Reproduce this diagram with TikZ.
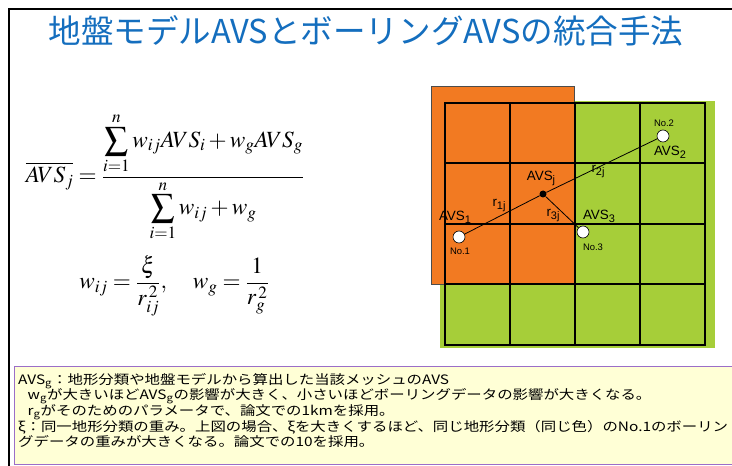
\documentclass[tikz,border=0pt]{standalone}
\usepackage{mathptmx}
\usepackage{fontspec}
\setmainfont{Liberation Serif}
\newfontfamily\cjk{Noto Sans CJK JP}
\newfontfamily\arial{Liberation Sans}
\definecolor{titleblue}{RGB}{20,110,190}
\definecolor{gorange}{RGB}{242,122,34}
\definecolor{ggreen}{RGB}{166,206,57}
\definecolor{boxfill}{RGB}{255,255,214}
\definecolor{boxline}{RGB}{155,110,200}
\newcommand{\lsub}[1]{\raisebox{-3bp}{\fontsize{11}{11}\selectfont #1}}
\tikzset{
  titletext/.style={text=titleblue, font=\cjk\fontsize{33}{33}\selectfont, inner sep=0},
  gridline/.style={line width=2bp, black},
  pt/.style={circle, draw=black, line width=0.6bp, fill=white, minimum size=12bp, inner sep=0},
  jdot/.style={circle, fill=black, minimum size=7bp, inner sep=0},
  glabel/.style={font=\arial\fontsize{13.5}{14}\selectfont, inner sep=0},
  nolabel/.style={font=\arial\fontsize{9.5}{10}\selectfont, inner sep=0},
  notes/.style={font=\cjk\fontsize{13}{15.5}\selectfont, inner sep=0, anchor=north west},
}
\begin{document}
\begin{tikzpicture}[x=1bp, y=-1bp]
\useasboundingbox (0,0) rectangle (732,466);
% frame
\draw[line width=2bp] (9,466) -- (9,9) -- (740,9);
% title
\node[titletext] (title) at (366,31) {\scalebox{0.99}[1]{地盤モデルAVSとボーリングAVSの統合手法}};
% formulas
\node[inner sep=0] (eq1) at (165,177) {\fontsize{23.3}{27}\selectfont
  $\displaystyle \overline{AVS_j}=\frac{\displaystyle\sum_{i=1}^{n} w_{ij}AVS_i + w_g AVS_g}{\displaystyle\sum_{i=1}^{n} w_{ij}+w_g}$};
\node[inner sep=0] (eq2) at (174,286) {\fontsize{23.3}{27}\selectfont
  $\displaystyle w_{ij}=\frac{\xi}{r_{ij}^{\,2}},\quad w_g=\frac{1}{r_g^{\,2}}$};
% map
\fill[ggreen] (440,101) rectangle (715,348);
\filldraw[fill=gorange, draw=black!70, line width=0.6bp] (431,86) rectangle (574,284);
\foreach \x in {445,510,575,640,705} \draw[gridline] (\x,103) -- (\x,345);
\foreach \y in {103,163.5,224,284.5,345} \draw[gridline] (444,\y) -- (706,\y);
\node[pt] (n1) at (459,237) {};
\node[pt] (n2) at (663,136) {};
\node[pt] (n3) at (583,232) {};
\node[jdot] (j) at (543,194) {};
\draw[line width=0.8bp] (n1) -- (j) -- (n2);
\draw[line width=0.8bp] (j) -- (n3);
\node[glabel] (l1) at (455,217) {AVS\lsub{1}};
\node[glabel] (l2) at (670,152) {AVS\lsub{2}};
\node[glabel] (l3) at (599,216) {AVS\lsub{3}};
\node[glabel] (lj) at (541,178) {AVS\lsub{j}};
\node[glabel] (r1) at (499,206) {r\lsub{1j}};
\node[glabel] (r2) at (598,172) {r\lsub{2j}};
\node[glabel] (r3) at (553,216) {r\lsub{3j}};
\node[nolabel] (no1) at (460,251) {No.1};
\node[nolabel] (no2) at (664,123) {No.2};
\node[nolabel] (no3) at (593,247) {No.3};
% notes box
\node[draw=boxline, fill=boxfill, line width=1.2bp, minimum width=730bp, minimum height=98bp, anchor=north west, inner sep=0] (box) at (14,366) {};
\node[notes] (txt) at (18,373) {\scalebox{1.19}[1]{\begin{tabular}{@{}l@{}}AVS\textsubscript{g}：地形分類や地盤モデルから算出した当該メッシュのAVS\\
\hspace{8bp}w\textsubscript{g}が大きいほどAVS\textsubscript{g}の影響が大きく、小さいほどボーリングデータの影響が大きくなる。\\
\hspace{8bp}r\textsubscript{g}がそのためのパラメータで、論文での1kmを採用。\\
ξ：同一地形分類の重み。上図の場合、ξを大きくするほど、同じ地形分類（同じ色）のNo.1のボーリン\\
グデータの重みが大きくなる。論文での10を採用。\end{tabular}}};
\end{tikzpicture}
\end{document}
